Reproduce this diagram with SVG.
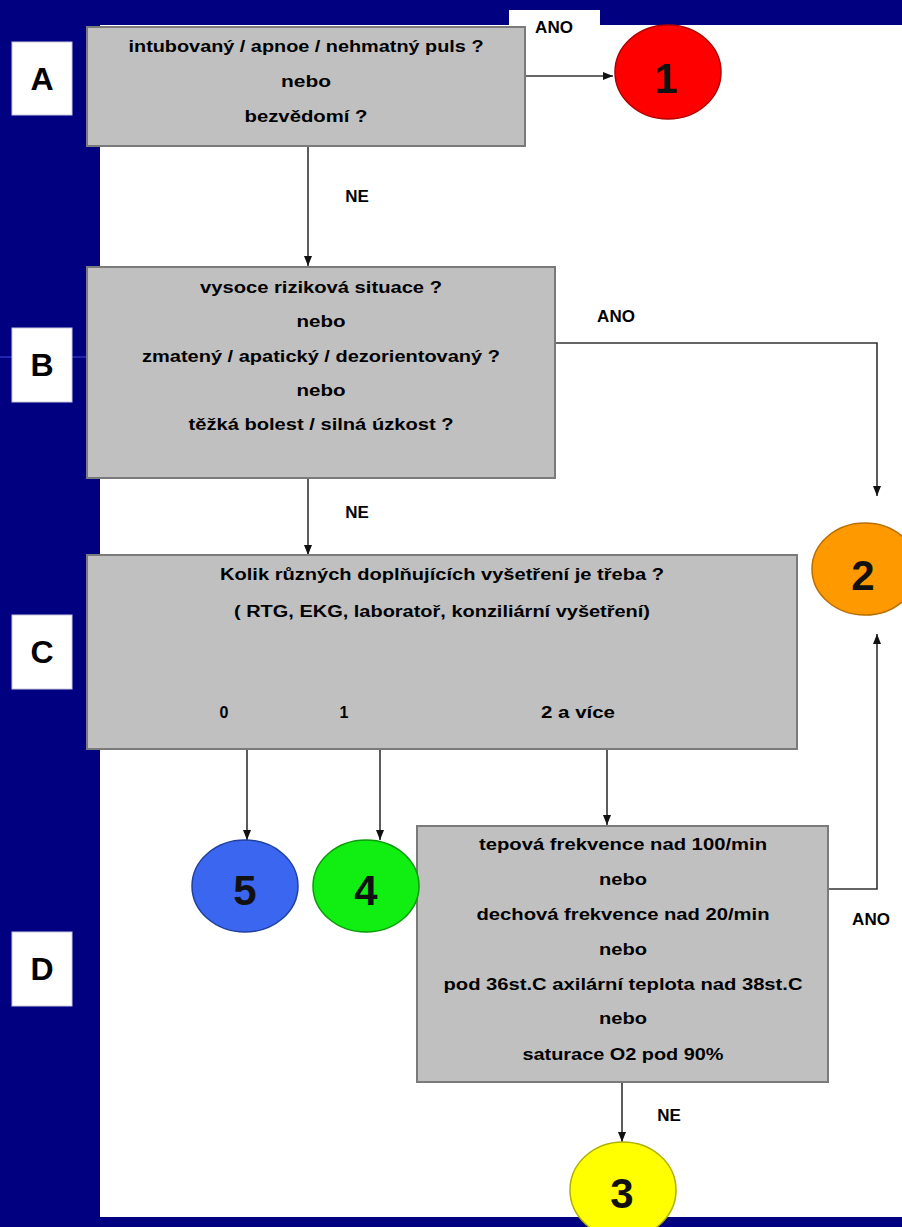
<svg xmlns="http://www.w3.org/2000/svg" width="902" height="1227" viewBox="0 0 902 1227">
<style>
.box{fill:#c0c0c0;stroke:#7a7a7a;stroke-width:2}
.t{font-family:"Liberation Sans",Arial,sans-serif;font-weight:bold;font-size:16px;fill:#000;text-anchor:middle}
.lbl{font-family:"Liberation Sans",Arial,sans-serif;font-weight:bold;font-size:17px;fill:#000;text-anchor:middle}
.big{font-family:"Liberation Sans",Arial,sans-serif;font-weight:bold;font-size:32px;fill:#000;text-anchor:middle}
.num{font-family:"Liberation Sans",Arial,sans-serif;font-weight:bold;font-size:42px;fill:#111;text-anchor:middle}
.side{fill:#fff;stroke:#c8c8e0;stroke-width:1}
.c{fill:none;stroke:#333;stroke-width:1.6}
.circ{stroke-width:1.5}
</style>
<defs>
<marker id="ah" markerWidth="12" markerHeight="12" refX="10" refY="5.5" orient="auto" markerUnits="userSpaceOnUse">
<path d="M0,1.5 L10,5.5 L0,9.5 Z" fill="#111"/>
</marker>
</defs>
<rect x="0" y="0" width="902" height="1227" fill="#000080"/>
<rect x="100" y="25" width="802" height="1192" fill="#fff"/>
<rect x="509" y="10" width="91" height="16" fill="#fff"/>
<line x1="0" y1="357" x2="88" y2="357" stroke="#5a6cff" stroke-width="1" opacity="0.7"/>

<g id="connectors">
<line class="c" x1="525" y1="76" x2="613" y2="76" marker-end="url(#ah)"/>
<line class="c" x1="308" y1="146" x2="308" y2="266" marker-end="url(#ah)"/>
<path class="c" d="M555,343 H877 V496" marker-end="url(#ah)"/>
<line class="c" x1="308" y1="478" x2="308" y2="555" marker-end="url(#ah)"/>
<line class="c" x1="247" y1="749" x2="247" y2="840" marker-end="url(#ah)"/>
<line class="c" x1="380" y1="749" x2="380" y2="840" marker-end="url(#ah)"/>
<line class="c" x1="607" y1="749" x2="607" y2="825" marker-end="url(#ah)"/>
<path class="c" d="M828,889 H877 V634" marker-end="url(#ah)"/>
<line class="c" x1="622" y1="1082" x2="622" y2="1142" marker-end="url(#ah)"/>
<text class="lbl" x="554" y="33">ANO</text>
<text class="lbl" x="357" y="202">NE</text>
<text class="lbl" x="616" y="322">ANO</text>
<text class="lbl" x="357" y="518">NE</text>
<text class="lbl" x="871" y="925">ANO</text>
<text class="lbl" x="669" y="1121">NE</text>
</g>

<g id="label-A"><rect class="side" x="12" y="42" width="60" height="73"/><text class="big" x="42" y="90">A</text></g>
<g id="label-B"><rect class="side" x="12" y="328" width="60" height="74"/><text class="big" x="42" y="376">B</text></g>
<g id="label-C"><rect class="side" x="12" y="615" width="60" height="74"/><text class="big" x="42" y="663">C</text></g>
<g id="label-D"><rect class="side" x="12" y="932" width="60" height="74"/><text class="big" x="42" y="980">D</text></g>

<g id="box-A">
<rect class="box" x="87" y="27" width="438" height="119"/>
<text class="t" x="306" y="52" textLength="355" lengthAdjust="spacingAndGlyphs">intubovaný / apnoe / nehmatný puls ?</text>
<text class="t" x="306" y="87" textLength="50" lengthAdjust="spacingAndGlyphs">nebo</text>
<text class="t" x="306" y="122" textLength="123" lengthAdjust="spacingAndGlyphs">bezvědomí ?</text>
</g>

<g id="box-B">
<rect class="box" x="87" y="267" width="468" height="211"/>
<text class="t" x="321" y="293" textLength="242" lengthAdjust="spacingAndGlyphs">vysoce riziková situace ?</text>
<text class="t" x="321" y="327" textLength="49" lengthAdjust="spacingAndGlyphs">nebo</text>
<text class="t" x="321" y="362" textLength="358" lengthAdjust="spacingAndGlyphs">zmatený / apatický / dezorientovaný ?</text>
<text class="t" x="321" y="396" textLength="49" lengthAdjust="spacingAndGlyphs">nebo</text>
<text class="t" x="321" y="430" textLength="265" lengthAdjust="spacingAndGlyphs">těžká bolest / silná úzkost ?</text>
</g>

<g id="box-C">
<rect class="box" x="87" y="555" width="710" height="194"/>
<text class="t" x="442" y="580" textLength="444" lengthAdjust="spacingAndGlyphs">Kolik různých doplňujících vyšetření je třeba ?</text>
<text class="t" x="442" y="617" textLength="416" lengthAdjust="spacingAndGlyphs">( RTG, EKG, laboratoř, konziliární vyšetření)</text>
<text class="t" x="224" y="718">0</text>
<text class="t" x="344" y="718">1</text>
<text class="t" x="578" y="718" textLength="74" lengthAdjust="spacingAndGlyphs">2 a více</text>
</g>

<g id="box-D">
<rect class="box" x="417" y="826" width="411" height="256"/>
<text class="t" x="623" y="850" textLength="288" lengthAdjust="spacingAndGlyphs">tepová frekvence nad 100/min</text>
<text class="t" x="623" y="885" textLength="48" lengthAdjust="spacingAndGlyphs">nebo</text>
<text class="t" x="623" y="920" textLength="293" lengthAdjust="spacingAndGlyphs">dechová frekvence nad 20/min</text>
<text class="t" x="623" y="955" textLength="48" lengthAdjust="spacingAndGlyphs">nebo</text>
<text class="t" x="623" y="990" textLength="359" lengthAdjust="spacingAndGlyphs">pod 36st.C axilární teplota nad 38st.C</text>
<text class="t" x="623" y="1024" textLength="48" lengthAdjust="spacingAndGlyphs">nebo</text>
<text class="t" x="623" y="1060" textLength="201" lengthAdjust="spacingAndGlyphs">saturace O2 pod 90%</text>
</g>

<g id="circle-1"><ellipse class="circ" cx="668" cy="72" rx="53" ry="47" fill="#ff0000" stroke="#b00000"/><text class="num" x="666" y="93">1</text></g>
<g id="circle-2"><ellipse class="circ" cx="865" cy="569" rx="53" ry="46" fill="#ff9900" stroke="#b86e00"/><text class="num" x="863" y="590">2</text></g>
<g id="circle-3"><ellipse class="circ" cx="623" cy="1190" rx="53" ry="48" fill="#ffff00" stroke="#b0b000"/><text class="num" x="622" y="1208">3</text></g>
<g id="circle-4"><ellipse class="circ" cx="366" cy="886" rx="53" ry="46" fill="#11ee11" stroke="#0a9a0a"/><text class="num" x="366" y="905">4</text></g>
<g id="circle-5"><ellipse class="circ" cx="245" cy="886" rx="53" ry="46" fill="#3a66f0" stroke="#2040a0"/><text class="num" x="245" y="905">5</text></g>
</svg>
